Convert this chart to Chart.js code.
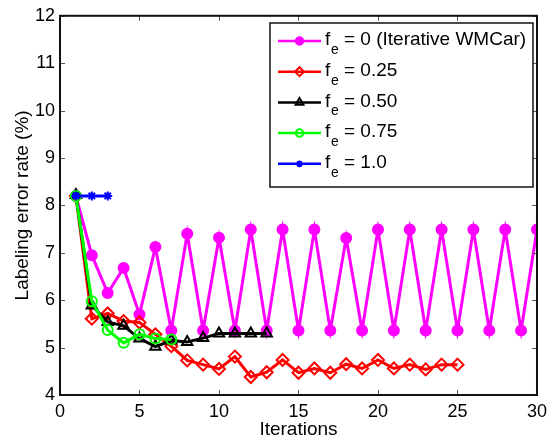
<!DOCTYPE html>
<html>
<head>
<meta charset="utf-8">
<script src="https://cdn.jsdelivr.net/npm/chart.js@4/dist/chart.umd.min.js"></script>
<style>
  html, body { margin: 0; padding: 0; background: #fff; }
  #wrap { width: 553px; height: 439px; }
</style>
</head>
<body>
<div id="wrap"><canvas id="c" width="553" height="439"></canvas></div>
<script>
// ---- data ----
const xTickValues = [0, 5, 10, 15, 20, 25, 30];
const yTickValues = [4, 5, 6, 7, 8, 9, 10, 11, 12];
const xAxisTitle = 'Iterations';
const yAxisTitle = 'Labeling error rate (%)';

const legendValues = ['0 (Iterative WMCar)', '0.25', '0.50', '0.75', '1.0'];

const errFe000 = [8.20, 6.95, 6.15, 6.68, 5.70, 7.12, 5.36, 7.40, 5.36, 7.32,
                  5.36, 7.49, 5.36, 7.49, 5.36, 7.49, 5.36, 7.31, 5.36, 7.49,
                  5.36, 7.49, 5.36, 7.49, 5.36, 7.49, 5.36, 7.49, 5.36, 7.49];
const errFe025 = [8.20, 5.61, 5.72, 5.56, 5.53, 5.28, 5.03, 4.73, 4.64, 4.55,
                  4.81, 4.38, 4.48, 4.74, 4.47, 4.56, 4.47, 4.65, 4.56, 4.74,
                  4.56, 4.64, 4.54, 4.64, 4.64];
const errFe050 = [8.22, 5.89, 5.54, 5.46, 5.19, 5.02, 5.15, 5.12, 5.20, 5.30,
                  5.30, 5.30, 5.30];
const errFe075 = [8.20, 5.98, 5.37, 5.10, 5.28, 5.19, 5.17];
const errFe100 = [8.20, 8.20, 8.20];

function toPoints(arr) { return arr.map((v, i) => ({ x: i + 1, y: v })); }

const seriesStyles = [
  { data: errFe000, color: '#ff00ff', style: 'circle',   radius: 5,   fill: true,  order: 5 },
  { data: errFe025, color: '#ff0000', style: 'rectRot',  radius: 6,   fill: false, order: 4 },
  { data: errFe050, color: '#000000', style: 'triangle', radius: 6,   fill: false, order: 3 },
  { data: errFe075, color: '#00ff00', style: 'circle',   radius: 5,   fill: false, order: 2 },
  { data: errFe100, color: '#0000ff', style: 'star',     radius: 4.5, fill: false, order: 1 }
];

const datasets = seriesStyles.map((s, i) => ({
  label: 'f_e = ' + legendValues[i],
  data: toPoints(s.data),
  borderColor: s.color,
  backgroundColor: s.color,
  borderWidth: 3,
  pointStyle: s.style,
  pointRadius: s.radius,
  pointHoverRadius: s.radius,
  pointBorderWidth: 2,
  pointBorderColor: s.color,
  pointBackgroundColor: s.fill ? s.color : 'rgba(0,0,0,0)',
  order: s.order,
  tension: 0
}));

// ---- plugins ----
const frameTicks = {
  id: 'frameTicks',
  afterDatasetsDraw(chart) {
    const { ctx, chartArea: a, scales } = chart;
    ctx.save();
    ctx.strokeStyle = '#555';
    ctx.lineWidth = 1;
    const tl = 5;
    ctx.beginPath();
    xTickValues.forEach(v => {
      const px = Math.round(scales.x.getPixelForValue(v)) + 0.5;
      ctx.moveTo(px, a.bottom); ctx.lineTo(px, a.bottom - tl);
      ctx.moveTo(px, a.top); ctx.lineTo(px, a.top + tl);
    });
    yTickValues.forEach(v => {
      const py = Math.round(scales.y.getPixelForValue(v)) + 0.5;
      ctx.moveTo(a.left, py); ctx.lineTo(a.left + tl, py);
      ctx.moveTo(a.right, py); ctx.lineTo(a.right - tl, py);
    });
    ctx.stroke();
    ctx.strokeStyle = '#111';
    ctx.lineWidth = 2;
    ctx.strokeRect(a.left, a.top, a.right - a.left, a.bottom - a.top);
    ctx.restore();
  }
};

const customLegend = {
  id: 'customLegend',
  afterDraw(chart) {
    const { ctx } = chart;
    const box = { x: 270, y: 23, w: 263, h: 164 };
    ctx.save();
    ctx.fillStyle = '#fff';
    ctx.fillRect(box.x, box.y, box.w, box.h);
    ctx.strokeStyle = '#111';
    ctx.lineWidth = 1.5;
    ctx.strokeRect(box.x, box.y, box.w, box.h);
    const rowY0 = 41, rowGap = 30.7;
    chart.data.datasets.forEach((ds, i) => {
      const y = rowY0 + i * rowGap;
      ctx.strokeStyle = ds.borderColor;
      ctx.lineWidth = 2.5;
      ctx.beginPath();
      ctx.moveTo(278, y); ctx.lineTo(321, y);
      ctx.stroke();
      ctx.lineWidth = ds.pointBorderWidth;
      ctx.strokeStyle = ds.pointBorderColor;
      ctx.fillStyle = ds.pointBackgroundColor;
      Chart.helpers.drawPoint(ctx, { pointStyle: ds.pointStyle, radius: ds.pointRadius * 0.75, rotation: 0, borderWidth: ds.pointBorderWidth }, 299.5, y);
      // text with subscript
      const parts = ds.label.split(' = ');
      const base = parts[0].split('_');
      ctx.fillStyle = '#000';
      ctx.textBaseline = 'middle';
      ctx.textAlign = 'left';
      ctx.font = '19px "Liberation Sans", Arial, sans-serif';
      ctx.fillText(base[0], 325, y - 1);
      ctx.font = '14px "Liberation Sans", Arial, sans-serif';
      ctx.fillText(base[1], 331, y + 9);
      ctx.font = '19px "Liberation Sans", Arial, sans-serif';
      ctx.fillText('= ' + parts[1], 344, y - 1);
    });
    ctx.restore();
  }
};

const tickFont = { family: '"Liberation Sans", Arial, sans-serif', size: 18 };
const titleFont = { family: '"Liberation Sans", Arial, sans-serif', size: 19, lineHeight: 1 };

new Chart(document.getElementById('c'), {
  type: 'line',
  data: { datasets },
  options: {
    responsive: false,
    animation: false,
    devicePixelRatio: 1,
    layout: { padding: { top: 15, right: 13, left: 0, bottom: 0 } },
    plugins: { legend: { display: false }, tooltip: { enabled: false } },
    scales: {
      x: {
        type: 'linear', min: 0, max: 30,
        afterBuildTicks(scale) { scale.ticks = xTickValues.map(v => ({ value: v })); },
        afterFit(scale) { scale.height = 44; },
        grid: { display: false, drawTicks: false },
        border: { display: false },
        ticks: { font: tickFont, color: '#000', padding: 6, maxRotation: 0 },
        title: { display: true, text: xAxisTitle, font: titleFont, color: '#000', padding: { top: -2, bottom: 0 } }
      },
      y: {
        type: 'linear', min: 4, max: 12,
        afterBuildTicks(scale) { scale.ticks = yTickValues.map(v => ({ value: v })); },
        afterFit(scale) { scale.width = 60; },
        grid: { display: false, drawTicks: false },
        border: { display: false },
        ticks: { font: tickFont, color: '#000', padding: 5 },
        title: { display: true, text: yAxisTitle, font: titleFont, color: '#000', padding: { top: 13, bottom: 0 } }
      }
    }
  },
  plugins: [frameTicks, customLegend]
});
</script>
</body>
</html>
